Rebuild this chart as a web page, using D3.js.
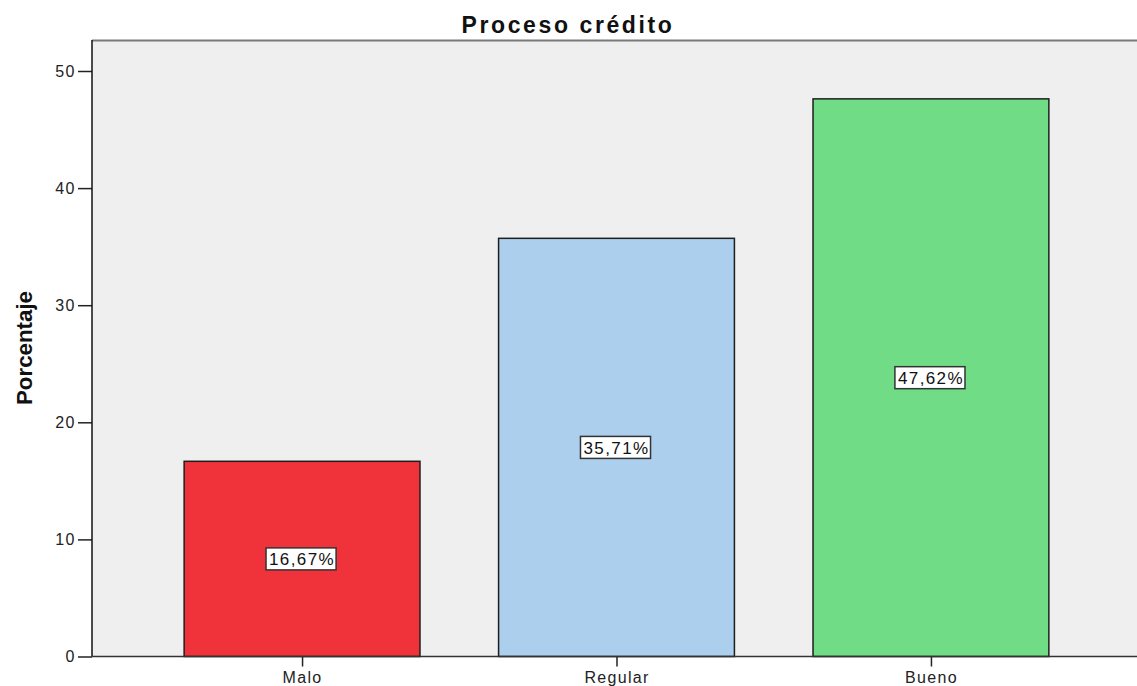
<!DOCTYPE html>
<html>
<head>
<meta charset="utf-8">
<script src="https://cdn.jsdelivr.net/npm/d3@7"></script>
<style>
  html, body { margin: 0; padding: 0; background: #fff; }
  svg { display: block; }
  text { font-family: "Liberation Sans", Arial, sans-serif; }
</style>
</head>
<body>
<svg id="chart" width="1137" height="686"></svg>
<script>
// Percentage of responses per rating of the credit process
const categories = ["Malo", "Regular", "Bueno"];
const percentages = [16.67, 35.71, 47.62];
const barColors = ["#f0323a", "#accfed", "#70dc85"];
const yTicks = [0, 10, 20, 30, 40, 50];

const W = 1137, H = 686;
const plot = { left: 92, top: 40, right: 1141, bottom: 656.5 };

const svg = d3.select("#chart");

const x = d3.scalePoint()
  .domain(categories)
  .range([plot.left, plot.right])
  .padding(0.668);
const barWidth = x.step() * 0.75;

const y = d3.scaleLinear()
  .domain([0, 50])
  .range([plot.bottom, 71]);

// Plot background
svg.append("rect")
  .attr("x", plot.left).attr("y", plot.top)
  .attr("width", plot.right - plot.left)
  .attr("height", plot.bottom - plot.top)
  .attr("fill", "#efefef");

// Top frame line
svg.append("line")
  .attr("x1", plot.left).attr("x2", plot.right)
  .attr("y1", plot.top + 0.5).attr("y2", plot.top + 0.5)
  .attr("stroke", "#7a7a7a").attr("stroke-width", 2);

// Bars
svg.append("g").selectAll("rect")
  .data(categories)
  .join("rect")
  .attr("x", d => x(d) - barWidth / 2)
  .attr("y", (d, i) => y(percentages[i]))
  .attr("width", barWidth)
  .attr("height", (d, i) => y(0) - y(percentages[i]))
  .attr("fill", (d, i) => barColors[i])
  .attr("stroke", "#1e1e1e")
  .attr("stroke-width", 1.5);

// Value labels in boxes at bar mid-height
const fmt = v => d3.format(".2f")(v).replace(".", ",") + "%";
const labels = svg.append("g").selectAll("g")
  .data(categories)
  .join("g")
  .attr("transform", (d, i) => `translate(${x(d)},${y(percentages[i] / 2)})`);
labels.append("text")
  .attr("text-anchor", "middle")
  .attr("dy", "0.36em")
  .attr("font-size", 17)
  .attr("letter-spacing", 1.4)
  .attr("fill", "#111")
  .text((d, i) => fmt(percentages[i]));
labels.each(function () {
  const g = d3.select(this);
  const bb = g.select("text").node().getBBox();
  g.insert("rect", "text")
    .attr("x", bb.x - 3).attr("y", -11)
    .attr("width", bb.width + 4).attr("height", 22)
    .attr("fill", "#fff")
    .attr("stroke", "#333")
    .attr("stroke-width", 1.5);
});

// Y axis
const yAxis = svg.append("g")
  .attr("transform", `translate(${plot.left},0)`)
  .call(d3.axisLeft(y).tickValues(yTicks).tickSize(14).tickPadding(2).tickSizeOuter(0));
yAxis.select(".domain").remove();
yAxis.selectAll(".tick line").attr("stroke", "#222").attr("stroke-width", 1.5);
yAxis.selectAll(".tick text").attr("font-size", 16).attr("letter-spacing", 1.5).attr("fill", "#222")
  .attr("font-family", "'Liberation Sans', Arial, sans-serif");
svg.append("line")
  .attr("x1", plot.left).attr("x2", plot.left)
  .attr("y1", plot.top).attr("y2", plot.bottom)
  .attr("stroke", "#111").attr("stroke-width", 1.5);

// X axis
const xAxis = svg.append("g")
  .attr("transform", `translate(0,${plot.bottom})`)
  .call(d3.axisBottom(x).tickSize(10).tickPadding(5).tickSizeOuter(0));
xAxis.select(".domain").remove();
xAxis.selectAll(".tick line").attr("stroke", "#222").attr("stroke-width", 1.5);
xAxis.selectAll(".tick text").attr("font-size", 16).attr("letter-spacing", 1.3).attr("fill", "#222")
  .attr("font-family", "'Liberation Sans', Arial, sans-serif");
svg.append("line")
  .attr("x1", plot.left).attr("x2", plot.right)
  .attr("y1", plot.bottom).attr("y2", plot.bottom)
  .attr("stroke", "#333").attr("stroke-width", 1.5);

// Title
svg.append("text")
  .attr("x", 568).attr("y", 33)
  .attr("text-anchor", "middle")
  .attr("font-size", 23)
  .attr("letter-spacing", 2.6)
  .attr("font-weight", "bold")
  .attr("fill", "#111")
  .text("Proceso crédito");

// Y axis title
svg.append("text")
  .attr("transform", "translate(32,348) rotate(-90)")
  .attr("text-anchor", "middle")
  .attr("font-size", 22)
  .attr("font-weight", "bold")
  .attr("fill", "#111")
  .attr("textLength", 114)
  .attr("lengthAdjust", "spacingAndGlyphs")
  .text("Porcentaje");
</script>
</body>
</html>
